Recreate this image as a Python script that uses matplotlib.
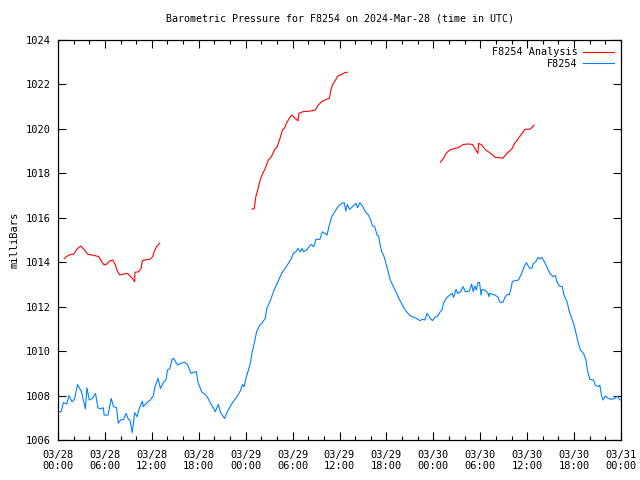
import numpy as np
import matplotlib
matplotlib.use("Agg")
import matplotlib.pyplot as plt
from matplotlib.ticker import MultipleLocator, FixedLocator

# hours since 2024-03-28 00:00 UTC
obs_hours = [0.0, 0.4, 0.7, 1.1, 1.4, 1.8, 2.1, 2.5, 3.0, 3.5, 3.7, 4.0, 4.4, 4.8, 5.1, 5.4, 5.8, 5.9,
             6.4, 6.8, 7.1, 7.5, 7.7, 8.0, 8.4, 8.7, 9.0, 9.2, 9.5, 9.8, 10.1, 10.4, 10.8, 10.9, 11.3,
             11.8, 12.2, 12.4, 12.8, 13.1, 13.5, 13.8, 14.0, 14.3, 14.6, 14.8, 15.3, 15.7, 16.2, 16.6,
             17.0, 17.4, 17.7, 17.9, 18.4, 18.9, 19.2, 19.5, 19.9, 20.1, 20.5, 20.8, 21.3, 21.6, 22.0,
             22.4, 22.9, 23.3, 23.6, 23.8, 24.1, 24.6, 24.8, 25.1, 25.4, 25.8, 26.0, 26.5, 26.7, 27.1,
             27.6, 28.1, 28.6, 29.2, 29.8, 30.1, 30.4, 30.7, 31.0, 31.2, 31.4, 31.8, 32.1, 32.4, 32.7,
             33.0, 33.5, 33.8, 34.1, 34.4, 34.7, 35.0, 35.4, 35.8, 36.3, 36.6, 36.8, 37.0, 37.3, 37.8,
             38.1, 38.3, 38.6, 39.0, 39.3, 39.7, 40.0, 40.2, 40.5, 40.8, 41.0, 41.2, 41.4, 41.6, 41.8,
             42.5, 43.1, 43.7, 44.4, 45.0, 45.7, 46.3, 46.6, 46.9, 47.2, 47.6, 47.9, 48.2, 48.5, 48.8,
             49.1, 49.3, 49.7, 50.1, 50.4, 50.6, 50.9, 51.1, 51.5, 51.8, 52.1, 52.6, 52.9, 53.1, 53.3,
             53.5, 53.7, 53.9, 54.1, 54.2, 54.6, 55.0, 55.1, 55.2, 55.9, 56.3, 56.5, 56.9, 57.2, 57.5,
             57.7, 57.9, 58.1, 58.4, 58.9, 59.3, 59.6, 59.9, 60.3, 60.6, 60.8, 61.1, 61.4, 61.6, 61.9,
             62.3, 62.6, 62.9, 63.3, 63.6, 63.8, 64.1, 64.5, 64.7, 65.1, 65.4, 65.7, 66.0, 66.2, 66.5,
             66.8, 67.2, 67.5, 67.7, 68.0, 68.5, 68.7, 69.1, 69.3, 69.5, 69.7, 70.0, 70.4, 70.8, 71.2,
             71.5, 71.9]
obs_mb = [1007.27, 1007.27, 1007.68, 1007.62, 1007.99, 1007.72, 1007.83, 1008.5, 1008.17, 1007.4,
          1008.35, 1007.8, 1007.87, 1008.1, 1007.45, 1007.4, 1007.45, 1007.12, 1007.12, 1007.87,
          1007.5, 1007.45, 1006.75, 1006.9, 1006.93, 1007.2, 1006.93, 1006.9, 1006.33, 1007.23,
          1007.05, 1007.43, 1007.75, 1007.5, 1007.65, 1007.8, 1008.0, 1008.4, 1008.77, 1008.32,
          1008.6, 1008.7, 1009.15, 1009.22, 1009.64, 1009.67, 1009.37, 1009.45, 1009.5, 1009.37,
          1009.0, 1009.05, 1009.07, 1008.6, 1008.15, 1008.03, 1007.87, 1007.65, 1007.43, 1007.27,
          1007.6, 1007.23, 1006.97, 1007.23, 1007.5, 1007.72, 1007.95, 1008.2, 1008.5, 1008.4,
          1008.85, 1009.45, 1009.9, 1010.35, 1010.87, 1011.17, 1011.22, 1011.47, 1011.92, 1012.22,
          1012.72, 1013.1, 1013.5, 1013.8, 1014.14, 1014.4, 1014.47, 1014.62, 1014.47, 1014.62,
          1014.47, 1014.55, 1014.7, 1014.8, 1014.7, 1015.03, 1015.03, 1015.37, 1015.3, 1015.22,
          1015.67, 1016.05, 1016.27, 1016.5, 1016.65, 1016.68, 1016.3, 1016.6, 1016.38, 1016.55,
          1016.65, 1016.45, 1016.68, 1016.5, 1016.27, 1016.12, 1015.9, 1015.64, 1015.6, 1015.22,
          1015.19, 1014.77, 1014.47, 1014.35, 1014.14, 1013.2, 1012.75, 1012.3, 1011.85, 1011.6,
          1011.5, 1011.37, 1011.43, 1011.4, 1011.7, 1011.48, 1011.37, 1011.52, 1011.55, 1011.73,
          1011.85, 1012.15, 1012.4, 1012.52, 1012.6, 1012.42, 1012.78, 1012.6, 1012.67, 1012.9,
          1012.67, 1012.7, 1013.02, 1012.67, 1012.93, 1012.75, 1013.08, 1013.1, 1012.52, 1012.77,
          1012.75, 1012.6, 1012.45, 1012.6, 1012.52, 1012.42, 1012.2, 1012.2, 1012.45, 1012.56,
          1012.53, 1012.75, 1013.13, 1013.17, 1013.2, 1013.5, 1013.8, 1013.98, 1013.73, 1013.73,
          1013.95, 1014.02, 1014.22, 1014.15, 1014.22, 1013.95, 1013.73, 1013.5, 1013.35, 1013.4,
          1013.13, 1012.93, 1012.9, 1012.52, 1012.22, 1011.77, 1011.48, 1011.17, 1010.87, 1010.42,
          1010.05, 1009.9, 1009.63, 1009.15, 1008.73, 1008.7, 1008.47, 1008.4, 1008.47, 1008.0,
          1007.8, 1007.98, 1007.87, 1007.83, 1007.87, 1007.98, 1007.8]

# analysis, three separate runs
ana1_hours = [0.8, 1.2, 1.7, 2.0, 2.4, 2.9, 3.4, 3.8, 4.3, 4.9, 5.2, 5.6, 5.9, 6.2, 6.6, 7.0, 7.3,
              7.6, 7.9, 8.4, 8.9, 9.2, 9.5, 9.8, 9.85, 10.3, 10.6, 10.8, 11.1, 11.8, 12.1, 12.3,
              12.6, 13.0]
ana1_mb = [1014.17, 1014.28, 1014.36, 1014.36, 1014.58, 1014.73, 1014.55, 1014.36, 1014.33,
           1014.28, 1014.25, 1014.02, 1013.88, 1013.91, 1014.05, 1014.1, 1013.91, 1013.6, 1013.42,
           1013.47, 1013.5, 1013.38, 1013.28, 1013.12, 1013.55, 1013.57, 1013.69, 1014.07, 1014.1,
           1014.14, 1014.25, 1014.47, 1014.7, 1014.85]
ana2_hours = [24.8, 25.1, 25.3, 25.6, 25.8, 26.0, 26.5, 26.9, 27.3, 27.7, 28.0, 28.4, 28.7, 29.0,
              29.2, 29.6, 29.9, 30.3, 30.7, 30.8, 31.4, 32.2, 32.9, 33.3, 33.7, 34.3, 34.7, 34.9,
              35.1, 35.4, 35.8, 36.3, 36.7, 37.0]
ana2_mb = [1016.38, 1016.42, 1016.95, 1017.33, 1017.62, 1017.85, 1018.22, 1018.6, 1018.75,
           1019.08, 1019.17, 1019.58, 1019.95, 1020.05, 1020.25, 1020.48, 1020.62, 1020.48,
           1020.36, 1020.7, 1020.78, 1020.8, 1020.85, 1021.08, 1021.22, 1021.33, 1021.37, 1021.75,
           1021.97, 1022.15, 1022.38, 1022.46, 1022.53, 1022.55]
ana3_hours = [48.9, 49.3, 49.7, 50.1, 50.8, 51.2, 51.8, 52.5, 53.0, 53.3, 53.7, 53.8, 54.2, 54.6,
              55.2, 55.9, 56.5, 56.9, 57.4, 58.0, 58.4, 58.9, 59.3, 59.7, 60.4, 60.7, 60.9]
ana3_mb = [1018.5, 1018.68, 1018.93, 1019.05, 1019.13, 1019.15, 1019.3, 1019.32, 1019.3, 1019.13,
           1018.9, 1019.35, 1019.28, 1019.08, 1018.93, 1018.72, 1018.7, 1018.68, 1018.9, 1019.08,
           1019.35, 1019.58, 1019.77, 1019.98, 1019.99, 1020.1, 1020.17]

tick_labels = ["03/28\n00:00", "03/28\n06:00", "03/28\n12:00", "03/28\n18:00",
               "03/29\n00:00", "03/29\n06:00", "03/29\n12:00", "03/29\n18:00",
               "03/30\n00:00", "03/30\n06:00", "03/30\n12:00", "03/30\n18:00",
               "03/31\n00:00"]

plt.rcParams['font.family'] = ['DejaVu Sans Mono']
plt.rcParams['font.size'] = 7.5

fig = plt.figure(figsize=(6.4, 4.8), dpi=100)
ax = fig.add_axes([58/640, 40/480, 563/640, 400/480])

# join the analysis runs with gaps
ana_h = ana1_hours + [np.nan] + ana2_hours + [np.nan] + ana3_hours
ana_v = ana1_mb + [np.nan] + ana2_mb + [np.nan] + ana3_mb
ax.plot(ana_h, ana_v, color='#ff0000', lw=0.8, label='F8254 Analysis')
ax.plot(obs_hours, obs_mb, color='#0080ff', lw=0.8, label='F8254')

ax.set_xlim(0, 72)
ax.set_ylim(1006, 1024)
ax.yaxis.set_major_locator(MultipleLocator(2))
ax.xaxis.set_major_locator(FixedLocator(np.arange(0, 73, 6)))
ax.xaxis.set_minor_locator(MultipleLocator(2))
ax.set_xticklabels(tick_labels)
ax.tick_params(which='both', direction='in', top=True, right=True, color='black', width=0.8)
ax.tick_params(which='major', length=6, pad=7)
ax.tick_params(which='minor', length=3)
ax.tick_params(axis='y', pad=5)
for s in ax.spines.values():
    s.set_linewidth(0.9)

ax.set_ylabel('milliBars', labelpad=5)
ax.set_title('Barometric Pressure for F8254 on 2024-Mar-28 (time in UTC)', pad=13, fontsize=7.2)

ax.legend(loc='upper right', frameon=False, markerfirst=False, handlelength=3.0,
          handletextpad=0.6, labelspacing=0.15, borderaxespad=0.2, borderpad=0.5,
          fontsize=7.3)

fig.savefig('out.png', dpi=100)
